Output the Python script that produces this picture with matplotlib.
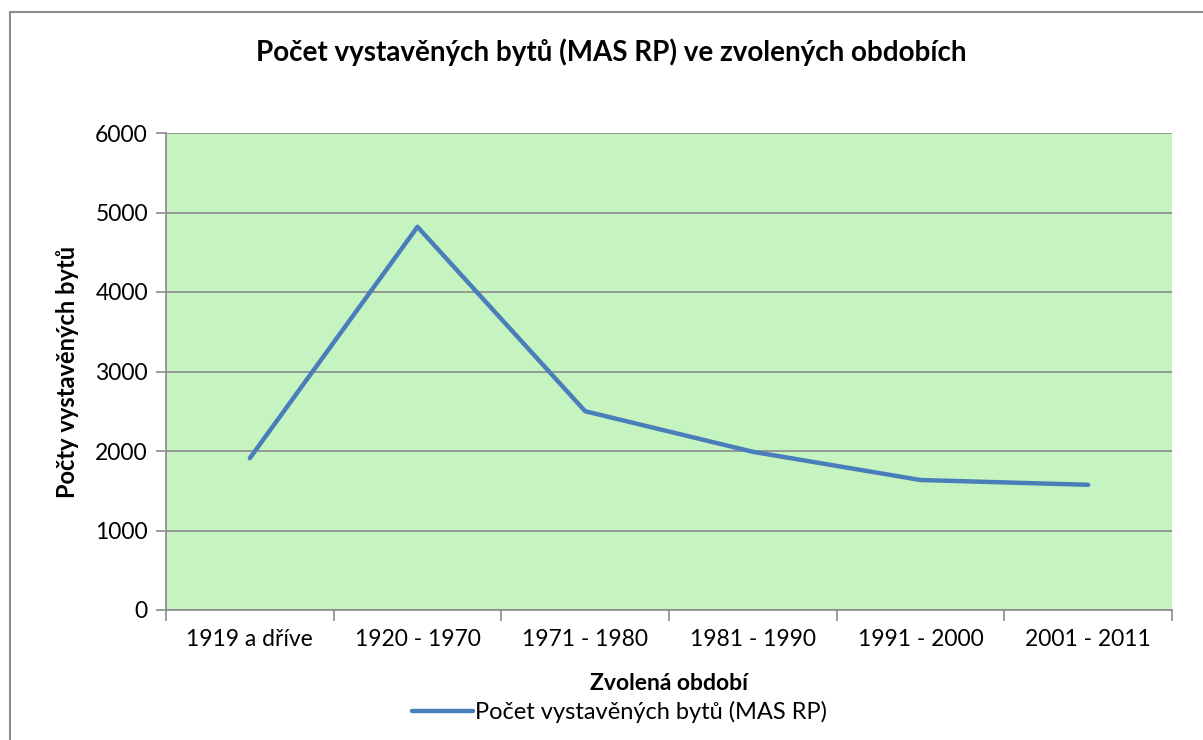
import matplotlib.pyplot as plt
from matplotlib.patches import Rectangle
from matplotlib.ticker import FixedLocator

# Data
obdobi = ["1919 a dříve", "1920 - 1970", "1971 - 1980", "1981 - 1990", "1991 - 2000", "2001 - 2011"]
pocty_bytu = [1910, 4820, 2500, 1990, 1635, 1575]

plt.rcParams['font.family'] = ['Lato', 'DejaVu Sans']

fig = plt.figure(figsize=(12.03, 7.40), dpi=100)

# ramecek grafu
fig.patches.append(Rectangle((10 / 1203, -0.01), 1.2, 1 - 12 / 740 + 0.01,
                             transform=fig.transFigure, fill=False,
                             edgecolor='#8c8c8c', linewidth=1.5))

ax = fig.add_axes([166 / 1203, 1 - 610 / 740, (1172 - 166) / 1203, (610 - 133) / 740])
ax.set_facecolor('#c6f4c0')

x = list(range(len(obdobi)))
ax.plot(x, pocty_bytu, color='#4a7ebb', linewidth=3.2, solid_capstyle='round',
        label='Počet vystavěných bytů (MAS RP)')

ax.set_xlim(-0.5, len(obdobi) - 0.5)
ax.set_ylim(0, 6000)
ax.set_yticks(range(0, 6001, 1000))
ax.yaxis.grid(True, color='#8a8a8a', linewidth=1.2)
ax.set_axisbelow(True)

ax.set_xticks(x)
ax.set_xticklabels(obdobi, fontsize=16.5)
ax.xaxis.set_minor_locator(FixedLocator([i - 0.5 for i in range(len(obdobi) + 1)]))
ax.tick_params(axis='x', which='major', length=0, pad=14)
ax.tick_params(axis='x', which='minor', length=8, color='#8a8a8a', width=1.2)
ax.tick_params(axis='y', length=7, color='#8a8a8a', width=1.2, labelsize=16.5, pad=6)

for s in ['top', 'right']:
    ax.spines[s].set_visible(False)
for s in ['left', 'bottom']:
    ax.spines[s].set_color('#8a8a8a')
    ax.spines[s].set_linewidth(1.2)

fig.text(611 / 1203, 1 - 52 / 740, 'Počet vystavěných bytů (MAS RP) ve zvolených obdobích',
         fontsize=20, fontweight='bold', ha='center', va='center')
ax.set_xlabel('Zvolená období', fontsize=16.5, fontweight='bold', labelpad=16)
ax.set_ylabel('Počty vystavěných bytů', fontsize=17, fontweight='bold', labelpad=12)

fig.legend(loc='center', bbox_to_anchor=(0.515, 0.038), frameon=False,
           fontsize=17, handlelength=2.6, handletextpad=0.1)

fig.savefig('out.png', dpi=100)
